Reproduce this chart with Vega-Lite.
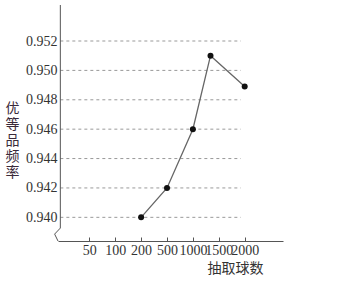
{
  "$schema": "https://vega.github.io/schema/vega-lite/v6.json",
  "width": 225,
  "height": 236,
  "autosize": {"type": "none"},
  "padding": {"left": 58, "top": 5, "right": 63, "bottom": 40},
  "background": "white",
  "config": {
    "view": {"stroke": null},
    "axis": {"labelOverlap": false, "grid": false, "labelFont": "Liberation Serif", "labelFontSize": 14, "labelColor": "#333", "titleFont": "Noto Sans CJK SC", "titleFontSize": 14, "titleFontWeight": "normal"}
  },
  "datasets": {
    "points": [
      {"idx": 3, "n": "200", "freq": 0.940},
      {"idx": 4, "n": "500", "freq": 0.942},
      {"idx": 5, "n": "1000", "freq": 0.946},
      {"idx": 5.68, "n": "1500", "freq": 0.951},
      {"idx": 7, "n": "2000", "freq": 0.9489}
    ],
    "grid": [
      {"g": 0.940}, {"g": 0.942}, {"g": 0.944}, {"g": 0.946}, {"g": 0.948}, {"g": 0.950}, {"g": 0.952}
    ],
    "yaxisline": [
      {"o": 1, "xi": -0.12, "yv": 0.95445},
      {"o": 2, "xi": -0.12, "yv": 0.93927},
      {"o": 3, "xi": -0.34, "yv": 0.93886},
      {"o": 4, "xi": -0.21, "yv": 0.93839}
    ]
  },
  "layer": [
    {
      "data": {"name": "grid"},
      "mark": {"type": "rule", "stroke": "#999", "strokeWidth": 1, "strokeDash": [3, 3]},
      "encoding": {
        "x": {
          "datum": -0.12, "type": "quantitative",
          "scale": {"domain": [-0.21, 8.48], "nice": false, "zero": false},
          "axis": {
            "values": [1, 2, 3, 4, 5, 6, 7],
            "tickCount": 20,
            "labelExpr": "['', '50', '100', '200', '500', '1000', '1500', '2000'][datum.value]",
            "domainColor": "#555",
            "tickColor": "#555",
            "tickSize": -4,
            "labelPadding": 6,
            "labelOverlap": false,
            "labelBaseline": "top",
            "title": "抽取球数",
            "titleColor": "#333",
            "titleAnchor": null,
            "titleAlign": "center",
            "titleBaseline": "top",
            "titleX": 177,
            "titleY": 20
          }
        },
        "x2": {"datum": 6.85},
        "y": {
          "field": "g", "type": "quantitative",
          "scale": {"domain": [0.93839, 0.95445], "nice": false, "zero": false},
          "axis": {
            "values": [0.940, 0.942, 0.944, 0.946, 0.948, 0.950, 0.952],
            "tickCount": 20,
            "format": ".3f",
            "domain": false,
            "ticks": false,
            "labelPadding": 1,
            "labelOverlap": false,
            "title": ["优", "等", "品", "频", "率"],
            "titleColor": "#3a2a3a",
            "titleAngle": 0,
            "titleAlign": "center",
            "titleBaseline": "top",
            "titleLineHeight": 16,
            "titleX": -46,
            "titleY": 96
          }
        }
      }
    },
    {
      "data": {"name": "yaxisline"},
      "mark": {"type": "line", "stroke": "#555", "strokeWidth": 1},
      "encoding": {
        "x": {"field": "xi", "type": "quantitative"},
        "y": {"field": "yv", "type": "quantitative"},
        "order": {"field": "o"}
      }
    },
    {
      "data": {"name": "points"},
      "mark": {"type": "line", "stroke": "#666", "strokeWidth": 1.3, "interpolate": "linear"},
      "encoding": {
        "x": {"field": "idx", "type": "quantitative"},
        "y": {"field": "freq", "type": "quantitative"}
      }
    },
    {
      "data": {"name": "points"},
      "mark": {"type": "point", "filled": true, "color": "#111", "size": 36, "opacity": 1},
      "encoding": {
        "x": {"field": "idx", "type": "quantitative"},
        "y": {"field": "freq", "type": "quantitative"}
      }
    },
    {
      "mark": {"type": "point", "shape": "M-0.8,2L0,0L0.8,2", "filled": false, "stroke": "#555", "strokeWidth": 1.2, "size": 36, "opacity": 1},
      "encoding": {
        "x": {"datum": -0.12, "type": "quantitative"},
        "y": {"datum": 0.95445, "type": "quantitative"}
      }
    },
    {
      "mark": {"type": "point", "shape": "M-1.7,-1L0,0L-1.7,1", "filled": false, "stroke": "#555", "strokeWidth": 1, "size": 36, "opacity": 1},
      "encoding": {
        "x": {"datum": 8.48, "type": "quantitative"},
        "y": {"datum": 0.93839, "type": "quantitative"}
      }
    }
  ]
}
